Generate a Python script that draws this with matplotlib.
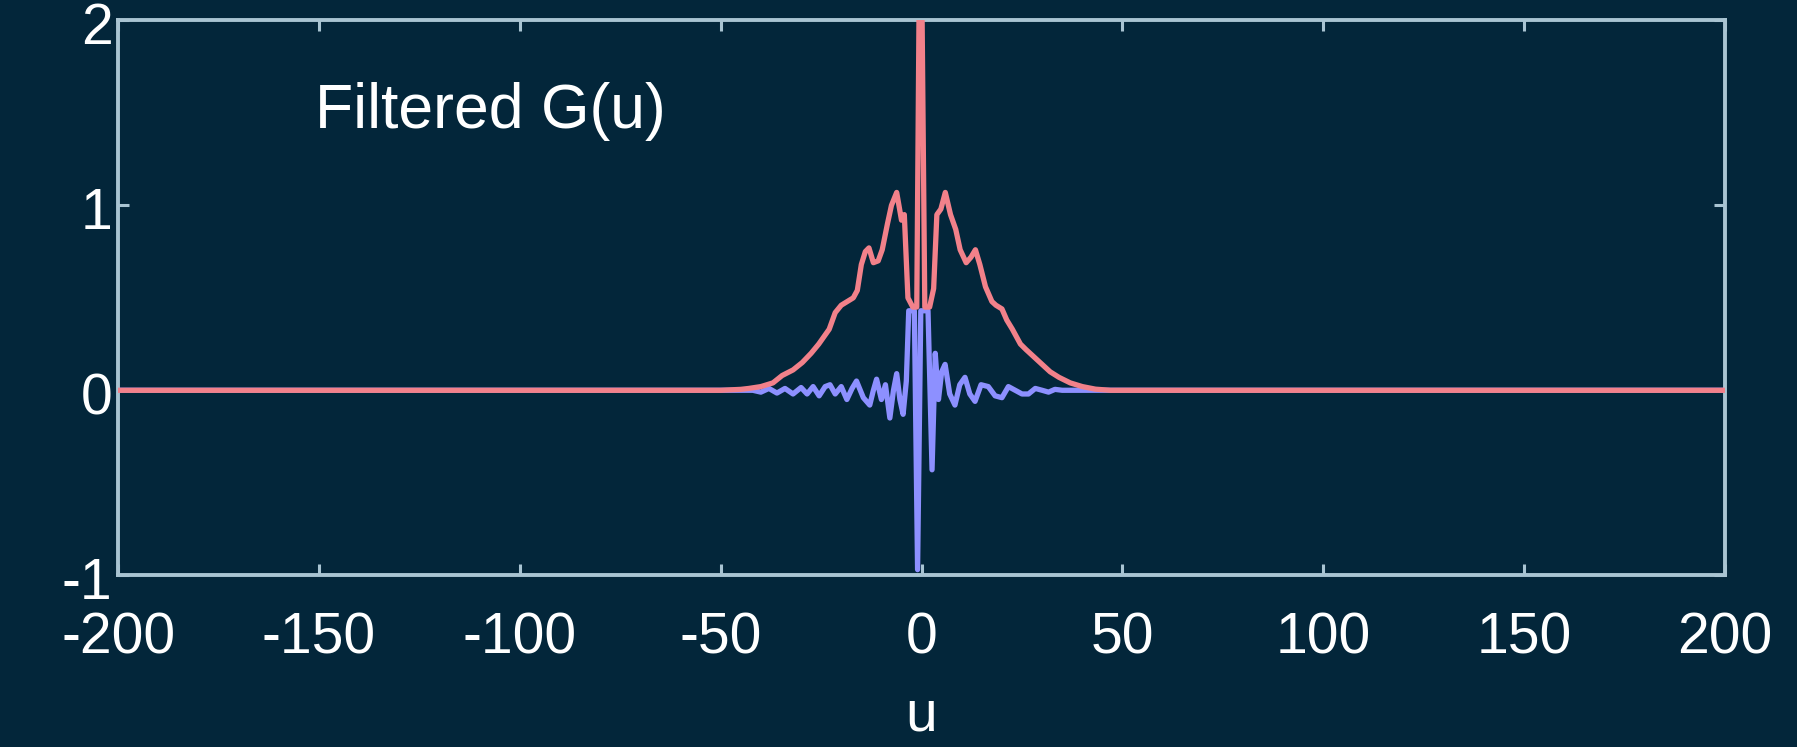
import numpy as np
import matplotlib.pyplot as plt
import matplotlib.transforms as mtransforms

# values
u_mag = [-200, -50, -45, -43, -40, -37, -34.7, -32, -29.7, -27.5, -25.6, -23, -21.5, -20,
         -18.5, -17, -16, -15, -14, -13.1, -12, -10.8, -9.8, -8.5, -7.5, -6.2, -5.0, -4.3,
         -3.4, -2.2, -1.2, -0.3, 0.8, 2.0, 3.0, 3.8, 4.8, 5.9, 7.2, 8.5, 9.6, 11.1, 12.3,
         13.4, 14.5, 15.9, 17.5, 18.5, 20, 21.2, 22.6, 24.6, 26, 28, 30, 32, 34.2, 37, 40,
         43.3, 47, 200]
g_mag = [0, 0, 0.005, 0.01, 0.02, 0.04, 0.08, 0.11, 0.15, 0.2, 0.25, 0.33, 0.42, 0.46,
         0.48, 0.5, 0.54, 0.68, 0.75, 0.77, 0.69, 0.7, 0.76, 0.9, 1.0, 1.07, 0.92, 0.95,
         0.5, 0.45, 0.45, 3.0, 0.45, 0.45, 0.55, 0.95, 0.98, 1.07, 0.95, 0.87, 0.76, 0.69, 0.72,
         0.76, 0.68, 0.56, 0.48, 0.46, 0.44, 0.38, 0.33, 0.25, 0.22, 0.18, 0.14, 0.1, 0.07, 0.04, 0.02,
         0.006, 0, 0]

u_re = [-200, -45, -42, -40, -38, -36, -34, -32, -30, -28.5, -27, -25.5, -24, -22.8, -21.5,
        -20, -18.6, -17.3, -16.2, -14.5, -12.9, -12, -11.2, -10, -9, -7.9, -7, -6.2, -5.4,
        -4.6, -3.8, -3.2, -1.8, -1.0, -0.2, 1.6, 2.6, 3.4, 4.2, 5.0, 5.85, 7, 8.3, 9.5, 10.8,
        12, 13.3, 14.8, 16.6, 18.3, 20, 21.6, 23.3, 25, 26.6, 28.3, 30, 31.6, 33.2, 35, 200]
g_re = [0, 0, 0, -0.01, 0.01, -0.015, 0.01, -0.02, 0.015, -0.02, 0.02, -0.03, 0.02, 0.03, -0.02,
        0.02, -0.05, 0.01, 0.05, -0.04, -0.08, 0.0, 0.06, -0.05, 0.03, -0.15, 0.0, 0.09, -0.05,
        -0.13, 0.05, 0.43, 0.43, -0.97, 0.43, 0.43, -0.43, 0.2, -0.05, 0.1, 0.14, -0.02, -0.08, 0.03, 0.07,
        -0.02, -0.06, 0.03, 0.02, -0.03, -0.04, 0.02, 0.0, -0.02, -0.02, 0.01, 0.0, -0.01, 0.005, 0, 0]

xticks = [-200, -150, -100, -50, 0, 50, 100, 150, 200]
yticks = [-1, 0, 1, 2]

bg = '#03263a'
frame = '#a9c4d2'

plt.rcParams['font.family'] = ['Liberation Sans', 'DejaVu Sans']

fig = plt.figure(figsize=(17.97, 7.47), dpi=100, facecolor=bg)
ax = fig.add_axes([0.0657, 0.230, 0.8943, 0.7426], facecolor=bg)

ax.plot(u_re, g_re, color='#8d90ff', lw=3.8, zorder=2)
ax.plot(u_mag, g_mag, color='#f2818a', lw=3.8, zorder=3)

ax.set_xlim(-200, 200)
ax.set_ylim(-1, 2)
ax.set_xticks(xticks)
ax.set_yticks(yticks)
ax.set_xticklabels([str(t) for t in xticks])
ax.set_yticklabels([str(t) for t in yticks])

for s in ax.spines.values():
    s.set_color(frame)
    s.set_linewidth(2.8)
ax.tick_params(direction='in', length=8, width=2.2, color=frame, labelcolor='white',
               labelsize=41, top=True, right=True)
ax.tick_params(axis='x', pad=26)
ax.tick_params(axis='y', pad=4)

# y labels sit a little below their ticks in the original
shift = mtransforms.ScaledTranslation(0, -3 / 100, fig.dpi_scale_trans)
for lab in ax.get_yticklabels():
    lab.set_transform(lab.get_transform() + shift)

ax.set_xlabel('u', color='white', fontsize=41, labelpad=17)
ax.text(-151, 1.51, 'Filtered G(u)', color='white', fontsize=45, va='center', ha='left')

fig.savefig('out.png', dpi=100, facecolor=bg)
